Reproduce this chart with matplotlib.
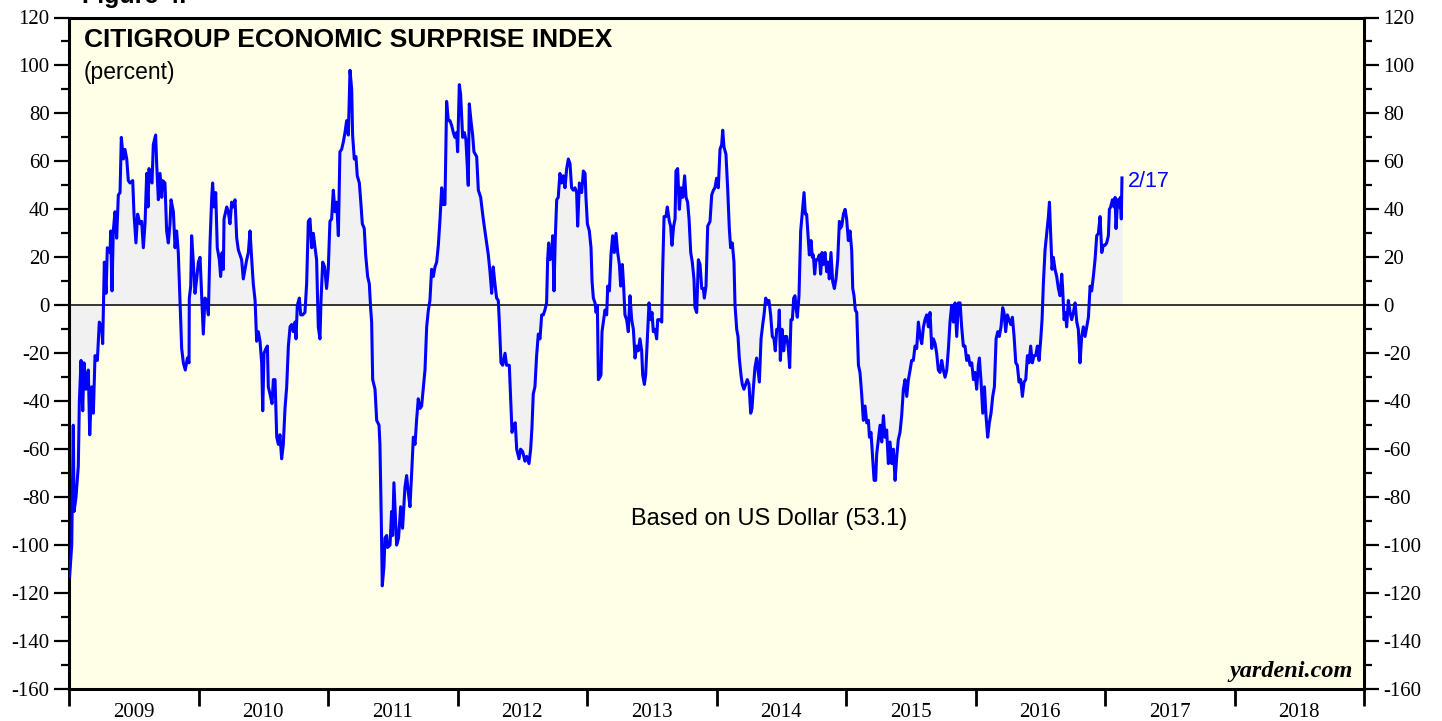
import numpy as np
import matplotlib.pyplot as plt
from matplotlib.ticker import MultipleLocator, FixedLocator, NullFormatter, FixedFormatter

# =========================
# DATA (decimal years)
# =========================
dates_09_10 = [
    2009.005, 2009.021, 2009.033, 2009.039, 2009.054, 2009.072, 2009.080, 2009.093, 2009.106, 2009.116,
    2009.131, 2009.149, 2009.160, 2009.175, 2009.188, 2009.201, 2009.219, 2009.234, 2009.252, 2009.260,
    2009.273, 2009.286, 2009.296, 2009.317, 2009.322, 2009.332, 2009.342, 2009.355, 2009.368, 2009.381,
    2009.394, 2009.404, 2009.420, 2009.432, 2009.446, 2009.458, 2009.471, 2009.492, 2009.502, 2009.517,
    2009.530, 2009.548, 2009.561, 2009.574, 2009.587, 2009.600, 2009.610, 2009.618, 2009.631, 2009.641,
    2009.651, 2009.669, 2009.677, 2009.690, 2009.703, 2009.716, 2009.723, 2009.741, 2009.754, 2009.767,
    2009.780, 2009.788, 2009.806, 2009.819, 2009.831, 2009.844, 2009.857, 2009.870, 2009.883, 2009.898,
    2009.914, 2009.927, 2009.929, 2009.940, 2009.947, 2009.960, 2009.973, 2009.986, 2009.999, 2010.012,
    2010.024, 2010.037, 2010.050, 2010.063, 2010.076, 2010.089, 2010.102, 2010.109, 2010.120, 2010.133,
    2010.145, 2010.161, 2010.171, 2010.182, 2010.192, 2010.197, 2010.218, 2010.230, 2010.243, 2010.256,
    2010.269, 2010.282, 2010.295, 2010.308, 2010.321, 2010.333, 2010.346, 2010.359, 2010.372, 2010.385,
    2010.398, 2010.411, 2010.423, 2010.437, 2010.449, 2010.462, 2010.475, 2010.488, 2010.496, 2010.506,
    2010.521, 2010.532, 2010.539, 2010.552, 2010.568, 2010.578, 2010.591, 2010.604, 2010.617, 2010.629,
    2010.642, 2010.655, 2010.668, 2010.681, 2010.694, 2010.707, 2010.719, 2010.732, 2010.745, 2010.753,
    2010.763, 2010.779, 2010.789, 2010.804, 2010.822, 2010.835, 2010.848, 2010.861, 2010.874, 2010.887,
    2010.900, 2010.912, 2010.925,
]
values_09_10 = [
    -113, -100, -50, -86, -80, -67, -40, -23, -44, -24,
    -35, -27, -54, -34, -45, -21, -23, -7, -9, -16,
    18, 5, 24, 22, 31, 6, 31, 39, 28, 46,
    47, 70, 61, 65, 61, 52, 51, 52, 38, 26,
    38, 34, 35, 24, 34, 55, 41, 57, 52, 51,
    67, 71, 59, 44, 55, 45, 52, 51, 31, 26,
    34, 44, 39, 24, 31, 22, 2, -18, -24, -27,
    -22, -24, 3, 8, 29, 18, 5, 11, 18, 20,
    5, -12, 3, 2, -4, 26, 45, 51, 41, 47,
    24, 19, 12, 22, 15, 36, 41, 39, 34, 43,
    41, 44, 28, 23, 21, 19, 11, 15, 19, 22,
    31, 19, 9, 2, -15, -11, -15, -24, -44, -20,
    -18, -17, -34, -37, -41, -31, -31, -55, -58, -54,
    -64, -58, -43, -34, -17, -9, -8, -11, -7, -14,
    0, 3, -4, -4, -3, 9, 35, 36, 24, 30,
    24, 19, -9,
]

dates_11_12 = [
    2010.938, 2010.946, 2010.959, 2010.974, 2010.989, 2011.002, 2011.015, 2011.028, 2011.041, 2011.054,
    2011.067, 2011.080, 2011.092, 2011.105, 2011.118, 2011.131, 2011.144, 2011.157, 2011.170, 2011.183,
    2011.190, 2011.203, 2011.216, 2011.226, 2011.242, 2011.252, 2011.265, 2011.280, 2011.291, 2011.306,
    2011.319, 2011.329, 2011.337, 2011.345, 2011.363, 2011.376, 2011.394, 2011.401, 2011.412, 2011.419,
    2011.432, 2011.440, 2011.453, 2011.460, 2011.479, 2011.491, 2011.499, 2011.509, 2011.520, 2011.530,
    2011.545, 2011.561, 2011.576, 2011.594, 2011.607, 2011.620, 2011.633, 2011.646, 2011.659, 2011.672,
    2011.684, 2011.697, 2011.710, 2011.723, 2011.749, 2011.762, 2011.775, 2011.787, 2011.800, 2011.813,
    2011.826, 2011.839, 2011.852, 2011.865, 2011.878, 2011.890, 2011.903, 2011.916, 2011.929, 2011.942,
    2011.955, 2011.968, 2011.980, 2011.993, 2012.001, 2012.014, 2012.024, 2012.040, 2012.053, 2012.065,
    2012.083, 2012.091, 2012.104, 2012.117, 2012.127, 2012.148, 2012.161, 2012.179, 2012.192, 2012.204,
    2012.225, 2012.238, 2012.251, 2012.264, 2012.276, 2012.289, 2012.302, 2012.315, 2012.323, 2012.336,
    2012.349, 2012.367, 2012.379, 2012.400, 2012.410, 2012.421, 2012.431, 2012.446, 2012.457, 2012.475,
    2012.487, 2012.503, 2012.521, 2012.534, 2012.552, 2012.565, 2012.575, 2012.585, 2012.598, 2012.611,
    2012.624, 2012.637, 2012.650, 2012.663, 2012.675, 2012.688, 2012.696, 2012.704, 2012.714, 2012.727,
    2012.735, 2012.745, 2012.755, 2012.766, 2012.778, 2012.791, 2012.804, 2012.817, 2012.830, 2012.843,
    2012.856, 2012.869, 2012.881, 2012.894, 2012.907, 2012.920, 2012.928, 2012.941,
]
values_11_12 = [
    -14, 2, 18, 16, 7, 15, 35, 36, 48, 39,
    43, 29, 64, 65, 68, 72, 77, 71, 98, 90,
    71, 61, 62, 54, 51, 44, 34, 32, 21, 12,
    9, -1, -7, -31, -35, -48, -50, -58, -91, -117,
    -109, -97, -96, -101, -100, -86, -96, -74, -88, -100,
    -97, -84, -93, -76, -71, -78, -84, -70, -55, -58,
    -48, -39, -43, -42, -27, -9, -2, 2, 15, 12,
    16, 18, 25, 36, 49, 42, 42, 85, 77, 77,
    75, 72, 70, 72, 64, 92, 88, 70, 72, 69,
    50, 84, 77, 71, 64, 62, 48, 45, 39, 34,
    26, 21, 14, 5, 16, 9, 3, 2, -7, -24,
    -25, -20, -25, -25, -38, -53, -50, -49, -60, -64,
    -60, -61, -65, -63, -66, -60, -51, -37, -34, -21,
    -12, -14, -4, -4, -2, 1, 19, 26, 19, 21,
    29, 6, 28, 44, 45, 55, 51, 54, 49, 57,
    61, 59, 49, 48, 49, 47, 33, 51,
]

dates_13_14 = [
    2012.946, 2012.959, 2012.972, 2012.985, 2012.992, 2013.003, 2013.018, 2013.031, 2013.039, 2013.049,
    2013.062, 2013.070, 2013.080, 2013.088, 2013.100, 2013.108, 2013.116, 2013.126, 2013.139, 2013.152,
    2013.160, 2013.173, 2013.185, 2013.198, 2013.211, 2013.224, 2013.237, 2013.250, 2013.260, 2013.273,
    2013.283, 2013.293, 2013.306, 2013.319, 2013.332, 2013.345, 2013.358, 2013.371, 2013.384, 2013.396,
    2013.409, 2013.422, 2013.430, 2013.443, 2013.453, 2013.466, 2013.479, 2013.492, 2013.502, 2013.512,
    2013.525, 2013.538, 2013.546, 2013.564, 2013.577, 2013.584, 2013.595, 2013.610, 2013.620, 2013.636,
    2013.646, 2013.656, 2013.669, 2013.680, 2013.687, 2013.700, 2013.713, 2013.726, 2013.739, 2013.754,
    2013.765, 2013.777, 2013.788, 2013.801, 2013.813, 2013.826, 2013.834, 2013.847, 2013.860, 2013.873,
    2013.886, 2013.898, 2013.906, 2013.919, 2013.932, 2013.950, 2013.963, 2013.976, 2013.988, 2014.001,
    2014.014, 2014.027, 2014.040, 2014.048, 2014.058, 2014.073, 2014.086, 2014.099, 2014.109, 2014.122,
    2014.135, 2014.143, 2014.156, 2014.166, 2014.176, 2014.189, 2014.199, 2014.212, 2014.225, 2014.238,
    2014.251, 2014.264, 2014.274, 2014.284, 2014.297, 2014.310, 2014.323, 2014.331, 2014.344, 2014.357,
    2014.367, 2014.380, 2014.393, 2014.405, 2014.418, 2014.431, 2014.444, 2014.454, 2014.465, 2014.478,
    2014.485, 2014.493, 2014.506, 2014.519, 2014.529, 2014.542, 2014.555, 2014.565, 2014.575, 2014.586,
    2014.596, 2014.606, 2014.614, 2014.624, 2014.637, 2014.650, 2014.663, 2014.676, 2014.686, 2014.696,
    2014.707, 2014.717, 2014.730, 2014.740, 2014.748, 2014.758, 2014.768, 2014.781, 2014.794, 2014.804,
    2014.815, 2014.825, 2014.838, 2014.851, 2014.861, 2014.871, 2014.884, 2014.897, 2014.910, 2014.923,
    2014.936, 2014.949,
]
values_13_14 = [
    50, 47, 56, 55, 45, 34, 31, 24, 10, 3,
    1, -3, 0, -31, -30, -29, -11, -7, -2, -4,
    8, 6, 21, 29, 22, 30, 22, 17, 8, 17,
    8, -4, -6, -11, 4, -6, -10, -22, -17, -19,
    -14, -19, -29, -33, -29, -14, 1, -6, -3, -11,
    -10, -14, -6, -6, -7, 14, 37, 37, 41, 35,
    33, 25, 33, 36, 56, 57, 40, 49, 45, 54,
    45, 43, 36, 22, 18, 11, -1, -3, 19, 17,
    7, 7, 3, 8, 33, 35, 46, 48, 49, 53,
    49, 65, 67, 73, 66, 63, 49, 32, 24, 26,
    18, 0, -10, -13, -22, -29, -33, -35, -33, -31,
    -33, -45, -43, -35, -26, -22, -28, -32, -14, -8,
    -4, 3, 1, 2, -4, -13, -14, -19, -10, -10,
    -2, -23, -10, -19, -13, -13, -18, -26, -6, -6,
    3, 4, -1, -5, 4, 31, 39, 47, 38, 38,
    29, 21, 27, 20, 21, 13, 19, 19, 21, 13,
    22, 17, 22, 14, 18, 11, 22, 10, 7, 11,
    19, 35,
]

dates_15_17 = [
    2014.954, 2014.967, 2014.980, 2014.993, 2015.005, 2015.018, 2015.031, 2015.044, 2015.052, 2015.062,
    2015.072, 2015.083, 2015.096, 2015.108, 2015.121, 2015.134, 2015.147, 2015.160, 2015.173, 2015.181,
    2015.193, 2015.204, 2015.217, 2015.229, 2015.237, 2015.250, 2015.263, 2015.276, 2015.289, 2015.301,
    2015.314, 2015.327, 2015.340, 2015.353, 2015.366, 2015.379, 2015.392, 2015.404, 2015.417, 2015.430,
    2015.443, 2015.456, 2015.469, 2015.482, 2015.495, 2015.507, 2015.520, 2015.533, 2015.546, 2015.559,
    2015.572, 2015.585, 2015.598, 2015.610, 2015.623, 2015.636, 2015.649, 2015.662, 2015.675, 2015.688,
    2015.700, 2015.713, 2015.726, 2015.739, 2015.752, 2015.765, 2015.778, 2015.791, 2015.803, 2015.816,
    2015.829, 2015.842, 2015.855, 2015.868, 2015.881, 2015.893, 2015.906, 2015.919, 2015.932, 2015.945,
    2015.958, 2015.971, 2015.984, 2015.996, 2016.009, 2016.022, 2016.030, 2016.043, 2016.056, 2016.069,
    2016.081, 2016.094, 2016.107, 2016.120, 2016.133, 2016.146, 2016.159, 2016.172, 2016.184, 2016.197,
    2016.210, 2016.220, 2016.233, 2016.246, 2016.259, 2016.272, 2016.285, 2016.298, 2016.311, 2016.323,
    2016.336, 2016.349, 2016.362, 2016.375, 2016.388, 2016.401, 2016.413, 2016.426, 2016.439, 2016.452,
    2016.465, 2016.478, 2016.491, 2016.504, 2016.514, 2016.524, 2016.537, 2016.550, 2016.563, 2016.571,
    2016.581, 2016.591, 2016.601, 2016.614, 2016.627, 2016.640, 2016.653, 2016.666, 2016.673, 2016.684,
    2016.694, 2016.704, 2016.717, 2016.730, 2016.743, 2016.756, 2016.769, 2016.782, 2016.794, 2016.807,
    2016.820, 2016.833, 2016.846, 2016.859, 2016.872, 2016.885, 2016.897, 2016.910, 2016.923, 2016.936,
    2016.949, 2016.962, 2016.975, 2016.987, 2017.000, 2017.013, 2017.026, 2017.034, 2017.044, 2017.057,
    2017.070, 2017.078, 2017.085, 2017.098, 2017.111, 2017.118, 2017.126, 2017.131,
]
values_15_17 = [
    32, 33, 38, 40, 36, 27, 31, 23, 7, 4,
    -2, -3, -25, -28, -37, -48, -42, -49, -48, -55,
    -53, -62, -73, -73, -62, -56, -50, -57, -46, -55,
    -52, -66, -57, -66, -60, -73, -63, -56, -53, -46,
    -35, -31, -38, -31, -27, -23, -23, -17, -18, -7,
    -13, -16, -9, -6, -4, -9, -3, -18, -14, -16,
    -20, -27, -28, -23, -27, -30, -27, -18, -7, 0,
    -7, 1, -13, 1, 1, -9, -17, -17, -23, -21,
    -25, -24, -31, -28, -35, -25, -22, -32, -45, -34,
    -46, -55, -49, -45, -38, -34, -14, -11, -13, -9,
    -1, -3, -11, -4, -6, -8, -5, -13, -24, -25,
    -32, -31, -38, -32, -31, -21, -24, -17, -24, -21,
    -21, -17, -23, -14, -6, 9, 23, 30, 37, 43,
    29, 15, 20, 15, 12, 7, 4, 13, 7, -6,
    -3, -9, 2, -3, -6, -3, 1, -7, -10, -24,
    -13, -9, -13, -9, -5, 8, 6, 12, 19, 29,
    30, 37, 22, 25, 25, 26, 29, 40, 41, 44,
    41, 45, 32, 44, 41, 45, 36, 53.1,
]

LAST_LABEL = "2/17"
TITLE = "CITIGROUP ECONOMIC SURPRISE INDEX"
SUBTITLE = "(percent)"
NOTE = "Based on US Dollar (53.1)"
YEARS = list(range(2009, 2019))

plt.rcParams["axes.unicode_minus"] = False
plt.rcParams["font.family"] = ["Liberation Sans", "DejaVu Sans"]


def main():
    dates = np.array(dates_09_10 + dates_11_12 + dates_13_14 + dates_15_17)
    values = np.array(values_09_10 + values_11_12 + values_13_14 + values_15_17, dtype=float)

    fig = plt.figure(figsize=(14.42, 7.21), dpi=100)
    ax = fig.add_axes([69 / 1442, 1 - 689 / 721, 1295 / 1442, 671.5 / 721])
    ax.set_facecolor("#fffee6")

    ax.fill_between(dates, values, 0, color="#f1f1f1", linewidth=0, zorder=1)
    ax.axhline(0, color="black", linewidth=1.1, zorder=2)
    ax.plot(dates, values, color="#0000ff", linewidth=2.2, zorder=3)

    ax.set_xlim(2009, 2019)
    ax.set_ylim(-160, 120)

    # y axis: both sides, major 20, minor 10
    ax.yaxis.set_major_locator(MultipleLocator(20))
    ax.yaxis.set_minor_locator(MultipleLocator(10))
    ax.tick_params(axis="y", which="both", direction="out", left=True, right=True,
                   labelleft=True, labelright=True, width=1.6, colors="black")
    ax.tick_params(axis="y", which="major", length=11, pad=3, labelsize=15,
                   labelfontfamily="Liberation Serif")
    ax.tick_params(axis="y", which="minor", length=5.5)

    # x axis: year boundaries as ticks, labels mid-year
    ax.xaxis.set_major_locator(FixedLocator(YEARS + [2019]))
    ax.xaxis.set_major_formatter(NullFormatter())
    ax.xaxis.set_minor_locator(FixedLocator([y + 0.5 for y in YEARS]))
    ax.xaxis.set_minor_formatter(FixedFormatter([str(y) for y in YEARS]))
    ax.tick_params(axis="x", which="major", direction="out", length=12, width=2)
    ax.tick_params(axis="x", which="minor", length=0, pad=10, labelsize=15,
                   labelfontfamily="Liberation Serif")

    for side in ax.spines.values():
        side.set_linewidth(2.2)

    ax.text(0.0116, 0.985, TITLE, transform=ax.transAxes, ha="left", va="top",
            fontsize=19, fontweight="bold")
    ax.text(0.0116, 0.935, SUBTITLE, transform=ax.transAxes, ha="left", va="top",
            fontsize=16.5)
    ax.text(2014.41, -89, NOTE, ha="center", va="center", fontsize=17)
    ax.text(dates[-1] + 0.045, values[-1] - 1.5, LAST_LABEL, ha="left", va="center",
            fontsize=15.5, color="#0000ff")
    ax.text(0.991, 0.01, "yardeni.com", transform=ax.transAxes, ha="right", va="bottom",
            fontsize=17.5, fontweight="bold", fontstyle="italic", family="Liberation Serif")

    fig.text(82 / 1442, 1 - 3 / 721, "Figure 4.", ha="left", va="baseline",
             fontsize=18, fontweight="bold")

    fig.savefig("out.png", dpi=100)


if __name__ == "__main__":
    main()
